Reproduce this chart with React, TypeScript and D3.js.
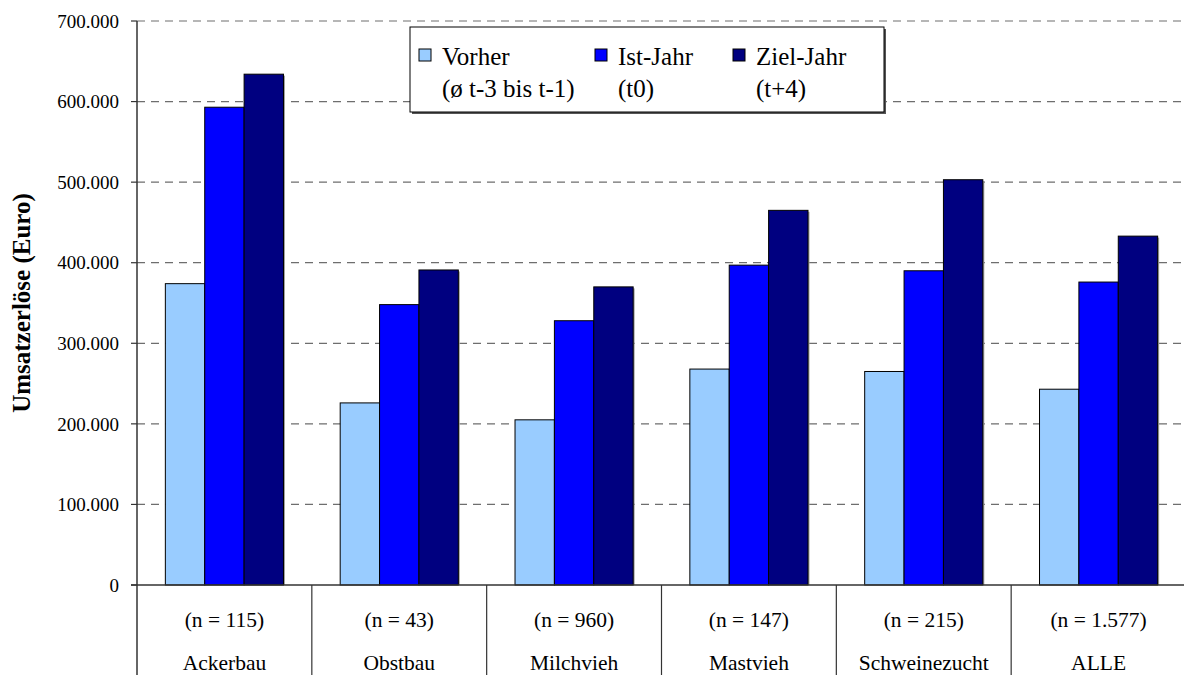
import React from "react";
import * as d3 from "d3";

const categories = ["Ackerbau", "Obstbau", "Milchvieh", "Mastvieh", "Schweinezucht", "ALLE"];
const nLabels = ["(n = 115)", "(n = 43)", "(n = 960)", "(n = 147)", "(n = 215)", "(n = 1.577)"];
const seriesNames = ["Vorher", "Ist-Jahr", "Ziel-Jahr"];
const seriesSub = ["(ø t-3 bis t-1)", "(t0)", "(t+4)"];
const seriesColors = ["#99CCFF", "#0000FF", "#000080"];
const vorher = [374000, 226000, 205000, 268000, 265000, 243000];
const istJahr = [593000, 348000, 328000, 397000, 390000, 376000];
const zielJahr = [634000, 391000, 370000, 465000, 503000, 433000];
const yTicks = [0, 100000, 200000, 300000, 400000, 500000, 600000, 700000];

const W = 1184;
const H = 675;
const left = 137;
const right = 1186;
const top = 21;
const bottom = 585;
const FONT = "'Liberation Serif', 'Times New Roman', serif";
const ts = (size: number, weight: string = "normal") => ({ fontFamily: FONT, fontSize: `${size}px`, fontWeight: weight as any });

export default function App() {
  const series = [vorher, istJahr, zielJahr];
  const x0 = d3.scaleBand<string>().domain(categories).range([left, right]).paddingInner(0).paddingOuter(0);
  const x1 = d3.scaleBand<string>().domain(seriesNames).range([0, x0.bandwidth()]).paddingInner(0).paddingOuter(0.72);
  const y = d3.scaleLinear().domain([0, 700000]).range([bottom, top]);
  const fmt = (v: number) => (v === 0 ? "0" : d3.format(",.0f")(v).replace(/,/g, "."));

  const legendX = 410;
  const legendY = 27;
  const legendW = 474;
  const legendH = 85;
  const itemX = [419, 595, 733];

  return (
    <svg width={W} height={H} style={{ position: "absolute", left: 0, top: 0, background: "#fff" }}>
      <rect x={0} y={0} width={W} height={H} fill="#fff" />
      {yTicks.filter((t) => t > 0).map((t) => (
        <line key={t} x1={left} x2={right} y1={y(t)} y2={y(t)} stroke="#6e6e6e" strokeWidth={1.2} strokeDasharray="8,6" />
      ))}
      {categories.map((c, ci) => (
        <g key={c} transform={`translate(${x0(c)},0)`}>
          {series.map((s, si) => (
            <g key={si}>
              <rect x={(x1(seriesNames[si]) as number) + 1.5} y={y(s[ci]) + 1.5} width={x1.bandwidth()} height={bottom - y(s[ci]) - 1.5} fill="#a0a0a0" />
              <rect x={x1(seriesNames[si])} y={y(s[ci])} width={x1.bandwidth()} height={bottom - y(s[ci])} fill={seriesColors[si]} stroke="#000" strokeWidth={1} />
            </g>
          ))}
        </g>
      ))}
      <line x1={left} x2={left} y1={top} y2={H} stroke="#333" strokeWidth={1.5} />
      <line x1={left - 6} x2={right} y1={bottom} y2={bottom} stroke="#333" strokeWidth={1.5} />
      {yTicks.map((t) => (
        <g key={t}>
          <line x1={left - 6} x2={left} y1={y(t)} y2={y(t)} stroke="#333" strokeWidth={1.2} />
          <text x={119} y={y(t)} dy="0.35em" textAnchor="end" style={ts(19)} fill="#000">{fmt(t)}</text>
        </g>
      ))}
      {categories.slice(1).map((c) => (
        <line key={c} x1={x0(c)} x2={x0(c)} y1={bottom} y2={H} stroke="#333" strokeWidth={1.2} />
      ))}
      {categories.map((c, ci) => (
        <g key={c}>
          <text x={(x0(c) as number) + x0.bandwidth() / 2} y={627} textAnchor="middle" style={ts(21.5)} fill="#000">{nLabels[ci]}</text>
          <text x={(x0(c) as number) + x0.bandwidth() / 2} y={670} textAnchor="middle" style={ts(21.5)} fill="#000">{c}</text>
        </g>
      ))}
      <text transform={`translate(30,${(top + bottom) / 2}) rotate(-90)`} textAnchor="middle" style={ts(25, "bold")} fill="#000">Umsatzerlöse (Euro)</text>
      <rect x={legendX + 2} y={legendY + 2} width={legendW} height={legendH} fill="#555" />
      <rect x={legendX} y={legendY} width={legendW} height={legendH} fill="#fff" stroke="#000" strokeWidth={1} />
      {seriesNames.map((s, si) => (
        <g key={s}>
          <rect x={itemX[si]} y={49} width={12} height={12} fill={seriesColors[si]} stroke="#000" strokeWidth={1} />
          <text x={itemX[si] + 23} y={65} style={ts(25)} fill="#000">{s}</text>
          <text x={itemX[si] + 23} y={97} style={ts(25)} fill="#000">{seriesSub[si]}</text>
        </g>
      ))}
    </svg>
  );
}
